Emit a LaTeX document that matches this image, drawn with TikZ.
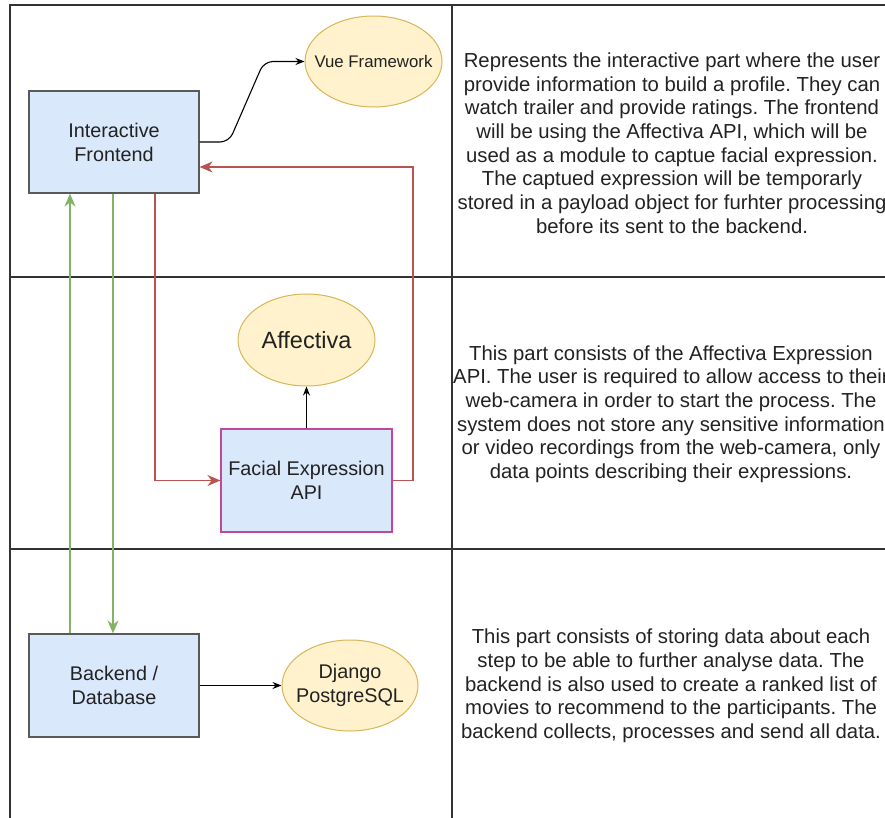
\documentclass[tikz,border=0pt]{standalone}
\usepackage{fontspec}
\setmainfont{Liberation Sans}
\usetikzlibrary{arrows.meta,shapes.geometric}
\definecolor{boxfill}{HTML}{DAE8FC}
\definecolor{boxline}{HTML}{5A5A5A}
\definecolor{ellfill}{HTML}{FFF2CC}
\definecolor{ellline}{HTML}{D6B656}
\definecolor{redline}{HTML}{B85450}
\definecolor{greenline}{HTML}{82B366}
\definecolor{apiline}{HTML}{C0479A}
\definecolor{txt}{HTML}{222222}
\definecolor{grid}{HTML}{333333}
\frenchspacing
\tikzset{
  boxnode/.style={draw=boxline,fill=boxfill,line width=1.2pt,minimum width=170pt,minimum height=102pt,align=center,font=\fontsize{19.8}{24}\selectfont,text=txt,inner sep=0pt},
  ellnode/.style={ellipse,draw=ellline,fill=ellfill,line width=1pt,inner sep=0pt},
  elltext/.style={align=center,text=txt,inner sep=0pt},
  gridline/.style={draw=grid,line width=1.3pt},
  redarrow/.style={draw=redline,line width=1.4pt,-{Stealth[length=13pt,width=11pt]}},
  greenarrow/.style={draw=greenline,line width=1.4pt,-{Stealth[length=13pt,width=11pt]}},
  blackarrow/.style={draw=black,line width=1.1pt,-{Stealth[length=9pt,width=7pt]}},
  desc/.style={align=center,font=\fontsize{20.3}{23.7}\selectfont,text=txt,inner sep=0pt}
}
\begin{document}
\begin{tikzpicture}[x=1pt,y=-1pt]
\useasboundingbox (0,0) rectangle (885,818);
\clip (0,0) rectangle (885,818);
% grid
\draw[gridline] (10,818) -- (10,5) -- (885,5);
\draw[gridline] (452,5) -- (452,818);
\draw[gridline] (10,277) -- (885,277);
\draw[gridline] (10,549) -- (885,549);
% nodes
\node[boxnode] (fe) at (114,142) {Interactive\\Frontend};
\node[boxnode,draw=apiline,minimum width=171pt,minimum height=103pt] (api) at (306.5,480.5) {Facial Expression\\API};
\node[boxnode,minimum height=103pt] (be) at (114,685.5) {Backend /\\Database};
\node[ellnode,minimum width=137pt,minimum height=91pt] (vue) at (373.5,61.5) {};
\node[elltext,font=\fontsize{16.8}{20}\selectfont] (vuet) at (vue.center) {Vue Framework};
\node[ellnode,minimum width=137pt,minimum height=92pt] (aff) at (306.5,340) {};
\node[elltext,font=\fontsize{23.5}{28}\selectfont] (afft) at (aff.center) {Affectiva};
\node[ellnode,minimum width=136pt,minimum height=91pt] (dj) at (350,685.5) {};
\node[elltext,font=\fontsize{19.8}{24}\selectfont] (djt) at (dj.center) {Django\\PostgreSQL};
% descriptions
\node[desc] (d1) at (672,143) {Represents the interactive part where the user\\provide information to build a profile. They can\\watch trailer and provide ratings. The frontend\\will be using the Affectiva API, which will be\\used as a module to captue facial expression.\\The captued expression will be temporarly\\stored in a payload object for furhter processing\\before its sent to the backend.};
\node[desc] (d2) at (671,414) {This part consists of the Affectiva Expression\\API. The user is required to allow access to their\\web-camera in order to start the process. The\\system does not store any sensitive information\\or video recordings from the web-camera, only\\data points describing their expressions.};
\node[desc] (d3) at (671,686) {This part consists of storing data about each\\step to be able to further analyse data. The\\backend is also used to create a ranked list of\\movies to recommend to the participants. The\\backend collects, processes and send all data.};
% connectors
\draw[blackarrow,rounded corners=9pt] (fe.east) -- (229,142) -- (264,61.5) -- (vue.west);
\draw[blackarrow] (api.north) -- (aff.south);
\draw[blackarrow] (be.east) -- (dj.west);
\draw[redarrow] (api.east) -| (413,167) -- ([yshift=-25pt]fe.east);
\draw[redarrow] ([xshift=41pt]fe.south) |- (api.west);
\draw[greenarrow] ([xshift=-44pt]be.north) -- ([xshift=-44pt]fe.south);
\draw[greenarrow] ([xshift=-1pt]fe.south) -- ([xshift=-1pt]be.north);
\end{tikzpicture}
\end{document}
